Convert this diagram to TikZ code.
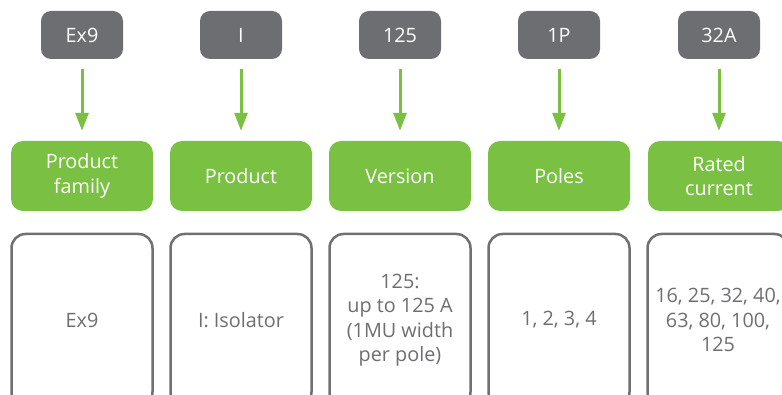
\documentclass[tikz,border=0pt]{standalone}
\usepackage{fontspec}
\setmainfont{Open Sans}
\usetikzlibrary{arrows.meta}
\definecolor{codegray}{HTML}{6D6E71}
\definecolor{boxgreen}{HTML}{7AC143}
\definecolor{outlinegray}{HTML}{707070}
\begin{document}
\begin{tikzpicture}[x=1pt,y=-1pt,
  every node/.style={font=\fontsize{19.8}{24.5}\selectfont, align=center, inner sep=0pt},
  codebox/.style={fill=codegray, text=white, rounded corners=10pt, minimum width=82pt, minimum height=48pt},
  catbox/.style={fill=boxgreen, text=white, rounded corners=12pt, minimum width=142pt, minimum height=70pt},
  valbox/.style={draw=outlinegray, line width=2.5pt, text=codegray, rounded corners=14pt, minimum width=141pt, minimum height=172pt},
  link/.style={draw=boxgreen, line width=3pt, -{Triangle[width=13pt,length=18pt]}, shorten <=10pt, shorten >=10pt}
]
\useasboundingbox (0,0) rectangle (782,395);
\clip (0,0) rectangle (782,395);
\node[codebox] (c1) at (82,35) {Ex9};
\node[codebox] (c2) at (241,35) {I};
\node[codebox] (c3) at (400,35) {125};
\node[codebox] (c4) at (559,35) {1P};
\node[codebox] (c5) at (719,35) {32A};
\node[catbox] (g1) at (82,176) {Product\\family};
\node[catbox] (g2) at (241,176) {Product};
\node[catbox] (g3) at (400,176) {Version};
\node[catbox] (g4) at (559,176) {Poles};
\node[catbox] (g5) at (719,176) {Rated\\current};
\node[valbox] (v1) at (82,320) {Ex9};
\node[valbox] (v2) at (241,320) {I: Isolator};
\node[valbox] (v3) at (400,320) {125:\\up to 125 A\\(1MU width\\per pole)};
\node[valbox] (v4) at (559,320) {1, 2, 3, 4};
\node[valbox] (v5) at (718,320) {16, 25, 32, 40,\\63, 80, 100,\\125};
\foreach \i in {1,...,5} { \draw[link] (c\i.south) -- (g\i.north); }
\end{tikzpicture}
\end{document}
